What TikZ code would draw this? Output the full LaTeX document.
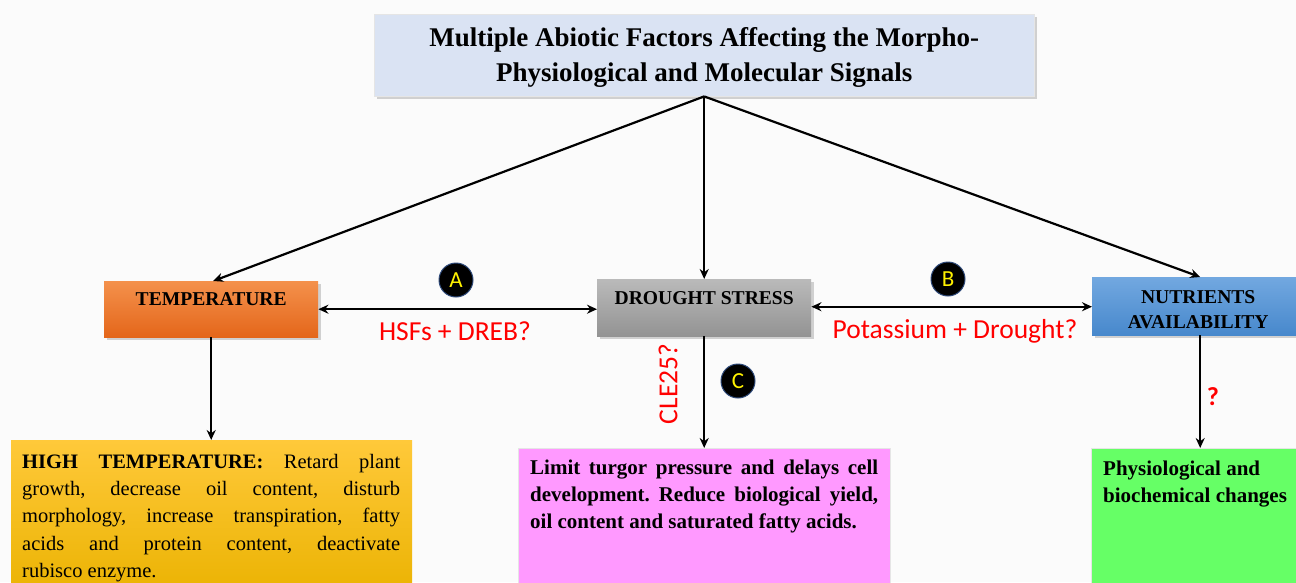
\documentclass[tikz,border=0pt]{standalone}
\usepackage{fontspec}
\setmainfont{Liberation Serif}
\newfontfamily\calfont{Carlito}
\usetikzlibrary{shadows,arrows.meta,calc}
\definecolor{bg}{HTML}{FBFBFB}
\definecolor{titlefill}{HTML}{DAE3F3}
\definecolor{tempTop}{HTML}{F4914C}
\definecolor{tempBot}{HTML}{E4661A}
\definecolor{drTop}{HTML}{BABABA}
\definecolor{drBot}{HTML}{939393}
\definecolor{nuTop}{HTML}{72A8E0}
\definecolor{nuBot}{HTML}{4788CC}
\definecolor{hiTop}{HTML}{FFC93A}
\definecolor{hiBot}{HTML}{EAB200}
\definecolor{pinkfill}{HTML}{FF99FF}
\definecolor{greenfill}{HTML}{66FF66}
\definecolor{redtxt}{HTML}{FF0000}
\definecolor{circborder}{HTML}{2F4A7A}
\begin{document}
\begin{tikzpicture}[x=1pt,y=-1pt,
  shadowed/.style={drop shadow={opacity=0.35,shadow xshift=2.5pt,shadow yshift=-2.5pt}},
  headbox/.style={rectangle,shadowed,inner xsep=0pt,inner ysep=0pt,align=center,
     font=\bfseries\fontsize{19.6}{25}\selectfont},
  contentbox/.style={rectangle,inner sep=0pt,anchor=north west},
  bodytext/.style={inner sep=0pt,anchor=north west,align=justify},
  conn/.style={line width=2.2pt,-{Stealth[length=10pt,width=9pt]}},
  dconn/.style={line width=2.2pt,{Stealth[length=10pt,width=9pt]}-{Stealth[length=10pt,width=9pt]}},
  redlabel/.style={text=redtxt,font=\calfont\fontsize{27.5}{27.5}\selectfont,inner sep=0pt},
  badge/.style={circle,fill=black,draw=circborder,line width=1pt,minimum size=34pt,inner sep=0pt,
     text=yellow,font=\calfont\fontsize{23}{23}\selectfont}
]
\useasboundingbox[fill=bg] (0,0) rectangle (1296,582);

% title
\node[rectangle,shadowed,fill=titlefill,draw=black!10,anchor=north west,minimum width=660pt,minimum height=82pt,
  align=center,font=\bfseries\fontsize{27}{35}\selectfont,inner sep=0pt] (title) at (374,14)
  {\rule{0pt}{24pt}Multiple Abiotic Factors Affecting the Morpho-\\Physiological and Molecular Signals};

% head boxes
\node[headbox,top color=tempTop,bottom color=tempBot,anchor=north west,minimum width=214pt,
  text height=24pt,text depth=32pt] (temp) at (104,281) {TEMPERATURE};
\node[headbox,top color=drTop,bottom color=drBot,anchor=north west,minimum width=214pt,
  text height=25pt,text depth=32pt] (drought) at (597,279) {DROUGHT STRESS};
\node[headbox,top color=nuTop,bottom color=nuBot,anchor=north west,minimum width=212pt,
  minimum height=58pt] (nutr) at (1092,277) {\rule{0pt}{20pt}NUTRIENTS\\AVAILABILITY};

% content boxes
\node[contentbox,top color=hiTop,bottom color=hiBot,minimum width=401pt,minimum height=160pt] (high) at (11,440) {};
\node[bodytext,text width=378pt,font=\fontsize{20.5}{27.2}\selectfont] (hightext) at (22,454)
  {\frenchspacing\hyphenpenalty=10000\textbf{HIGH TEMPERATURE:} Retard plant\linebreak growth, decrease oil content, disturb\linebreak morphology, increase transpiration, fatty\linebreak acids and protein content, deactivate\linebreak rubisco enzyme.};

\node[contentbox,fill=pinkfill,draw=black!10,minimum width=372pt,minimum height=150pt] (pink) at (518,448) {};
\node[bodytext,text width=348pt,font=\bfseries\fontsize{21}{27}\selectfont] (pinktext) at (530,460)
  {\frenchspacing\hyphenpenalty=10000 Limit turgor pressure and delays cell\linebreak development. Reduce biological yield,\linebreak oil content and saturated fatty acids.};

\node[contentbox,fill=greenfill,draw=black!10,minimum width=220pt,minimum height=150pt] (green) at (1091,448) {};
\node[inner sep=0pt,anchor=north west,align=left,font=\bfseries\fontsize{21}{27}\selectfont] (greentext) at (1103,461)
  {Physiological and\\biochemical changes};

% connectors
\draw[conn] (title.south) -- ($(temp.north)+(2,0)$);
\draw[conn] (title.south) -- (drought.north);
\draw[conn] (title.south) -- ($(nutr.north)+(2,0)$);
\draw[conn] (temp.south) -- (temp.south |- high.north);
\draw[conn] (drought.south) -- (drought.south |- pink.north);
\draw[conn] ($(nutr.south)+(2,0)$) -- ($(nutr.south |- green.north)+(2,0)$);
\draw[dconn] (temp.east) -- (temp.east -| drought.west);
\draw[dconn] ($(drought.east)+(0,-1)$) -- ($(drought.east -| nutr.west)+(0,-1)$);

% labels
\node[badge] (A) at (456,280) {A};
\node[badge] (B) at (948,279) {B};
\node[badge] (C) at (738,381) {C};
\node[redlabel] (l1) at (455,331) {HSFs + DREB?};
\node[redlabel] (l2) at (955,331) {Potassium + Drought?};
\node[redlabel,rotate=90] (l3) at (668,384) {CLE25?};
\node[redlabel,font=\calfont\bfseries\fontsize{26}{26}\selectfont] (l4) at (1213,397) {?};
\end{tikzpicture}
\end{document}
